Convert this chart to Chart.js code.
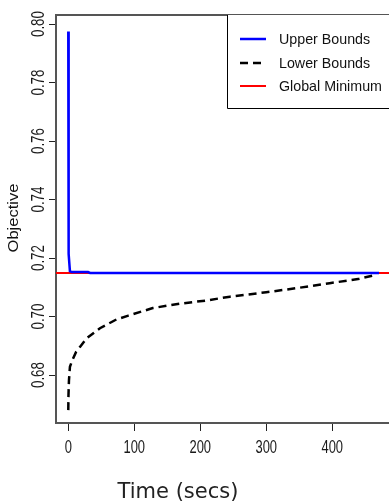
<!DOCTYPE html>
<html>
<head>
<meta charset="utf-8">
<script src="https://cdn.jsdelivr.net/npm/chart.js@4"></script>
<style>
  html, body { margin: 0; padding: 0; background: #fff; }
</style>
</head>
<body>
<canvas id="objChart" width="389" height="504"></canvas>
<script>
// series
const upperTime = [0, 0.3, 0.8, 2.5, 5, 30, 33, 471];
const upperObj = [0.7975, 0.7874, 0.7214, 0.7155, 0.7152, 0.7152, 0.7149, 0.7149];

const lowerTime = [0, 0.3, 1, 2.5, 6, 12, 18, 28, 48, 73, 91, 128, 169, 210, 245, 300, 346, 396, 439, 467];
const lowerObj = [0.668, 0.673, 0.678, 0.6828, 0.685, 0.688, 0.6897, 0.6926, 0.696, 0.699, 0.7003, 0.7029, 0.7044, 0.7055, 0.7068, 0.7083, 0.7097, 0.7114, 0.7128, 0.7143];

const globalTime = [-20, 500];
const globalObj = [0.7149, 0.7149];

const seriesNames = ["Upper Bounds", "Lower Bounds", "Global Minimum"];
const xTicks = [0, 100, 200, 300, 400];
const yTicks = [0.68, 0.70, 0.72, 0.74, 0.76, 0.78, 0.80];

const pts = (xs, ys) => xs.map((t, i) => ({ x: t, y: ys[i] }));

// axis labels, legend and the top frame line
const decor = {
  id: "decor",
  afterDraw(chart) {
    const { ctx, chartArea: a, scales: { x, y } } = chart;
    ctx.save();

    ctx.strokeStyle = "#555";
    ctx.lineWidth = 2;
    ctx.beginPath();
    ctx.moveTo(a.left - 1, a.top);
    ctx.lineTo(a.right, a.top);
    ctx.stroke();

    // y tick labels (rotated)
    ctx.fillStyle = "#1a1a1a";
    ctx.font = '18px "Liberation Sans", Arial, sans-serif';
    ctx.textAlign = "center";
    ctx.textBaseline = "alphabetic";
    yTicks.forEach(v => {
      ctx.save();
      ctx.translate(43.5, y.getPixelForValue(v));
      ctx.rotate(-Math.PI / 2);
      ctx.scale(0.74, 1);
      ctx.fillText(v.toFixed(2), 0, 0);
      ctx.restore();
    });

    // x tick labels
    xTicks.forEach(v => {
      ctx.save();
      ctx.translate(x.getPixelForValue(v), 453);
      ctx.scale(0.72, 1);
      ctx.fillText(String(v), 0, 0);
      ctx.restore();
    });

    // axis titles
    ctx.fillStyle = "#111";
    ctx.font = '15px "Liberation Sans", Arial, sans-serif';
    ctx.save();
    ctx.translate(18, 218);
    ctx.rotate(-Math.PI / 2);
    ctx.scale(1.1, 1);
    ctx.fillText("Objective", 0, 0);
    ctx.restore();

    ctx.fillStyle = "#222";
    ctx.font = '21px "DejaVu Sans", sans-serif';
    ctx.fillText("Time (secs)", 178, 498);

    // legend
    const lx = 227, ly = a.top, lh = 93;
    ctx.fillStyle = "#fff";
    ctx.fillRect(lx, ly, a.right - lx, lh);
    ctx.strokeStyle = "#000";
    ctx.lineWidth = 1;
    ctx.beginPath();
    ctx.moveTo(lx + 0.5, ly);
    ctx.lineTo(lx + 0.5, ly + lh + 0.5);
    ctx.lineTo(a.right, ly + lh + 0.5);
    ctx.stroke();

    const ds = chart.data.datasets;
    const rows = [39, 63, 86];
    ctx.font = '15px "Liberation Sans", Arial, sans-serif';
    ctx.textAlign = "left";
    ctx.textBaseline = "middle";
    seriesNames.forEach((name, i) => {
      const d = ds.find(s => s.label === name);
      ctx.strokeStyle = d.borderColor;
      ctx.lineWidth = d.borderWidth;
      ctx.setLineDash(d.borderDash || []);
      ctx.beginPath();
      ctx.moveTo(240, rows[i]);
      ctx.lineTo(266, rows[i]);
      ctx.stroke();
      ctx.setLineDash([]);
      ctx.fillStyle = "#111";
      ctx.save();
      ctx.translate(279, rows[i] + 1);
      ctx.scale(0.95, 1);
      ctx.fillText(name, 0, 0);
      ctx.restore();
    });

    ctx.restore();
  }
};

new Chart(document.getElementById("objChart"), {
  type: "line",
  data: {
    datasets: [
      {
        label: seriesNames[0],
        data: pts(upperTime, upperObj),
        borderColor: "#0000ff",
        borderWidth: 2.5,
        order: 0
      },
      {
        label: seriesNames[1],
        data: pts(lowerTime, lowerObj),
        borderColor: "#000000",
        borderWidth: 2.5,
        borderDash: [8, 5],
        order: 1
      },
      {
        label: seriesNames[2],
        data: pts(globalTime, globalObj),
        borderColor: "#ff0000",
        borderWidth: 2,
        order: 2
      }
    ]
  },
  options: {
    responsive: false,
    animation: false,
    devicePixelRatio: 1,
    layout: { padding: { left: 0, top: 15, right: 0, bottom: 0 } },
    elements: { point: { radius: 0 }, line: { tension: 0 } },
    plugins: { legend: { display: false }, tooltip: { enabled: false } },
    scales: {
      x: {
        type: "linear",
        min: -18.6,
        max: 486,
        afterBuildTicks: s => { s.ticks = xTicks.map(v => ({ value: v })); },
        afterFit: s => { s.height = 81; },
        ticks: { display: false },
        grid: { display: true, drawOnChartArea: false, drawTicks: true, tickLength: 8, color: "#222", lineWidth: 1 },
        border: { display: true, color: "#555", width: 2 }
      },
      y: {
        type: "linear",
        min: 0.6636,
        max: 0.8031,
        afterBuildTicks: s => { s.ticks = yTicks.map(v => ({ value: v })); },
        afterFit: s => { s.width = 56; },
        ticks: { display: false },
        grid: { display: true, drawOnChartArea: false, drawTicks: true, tickLength: 7, color: "#222", lineWidth: 1 },
        border: { display: true, color: "#555", width: 2 }
      }
    }
  },
  plugins: [decor]
});
</script>
</body>
</html>
